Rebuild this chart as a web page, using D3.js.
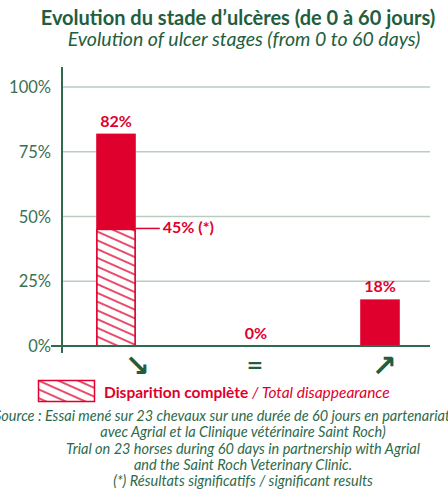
<!DOCTYPE html>
<html>
<head>
<meta charset="utf-8">
<script src="https://cdn.jsdelivr.net/npm/d3@7"></script>
<style>
  html, body { margin: 0; padding: 0; background: #fff; overflow: hidden; }
  svg { display: block; font-family: Lato, "Open Sans", sans-serif; }
</style>
</head>
<body>
<svg id="svg" width="448" height="493"></svg>
<script>
// chart values
const categories = ["down", "same", "up"];
const arrowLabels = ["\u2198", "=", "\u2197"];
const totals = [82, 0, 18];
const disappeared = [45, null, null];
const yTicks = [0, 25, 50, 75, 100];

const titleFr = "Evolution du stade d\u2019ulc\u00e8res (de 0 \u00e0 60 jours)";
const titleEn = "Evolution of ulcer stages (from 0 to 60 days)";
const legendFr = "Disparition compl\u00e8te";
const legendEn = "/ Total disappearance";
const notes = [
  "Source : Essai men\u00e9 sur 23 chevaux sur une dur\u00e9e de 60 jours en partenariat",
  "avec Agrial et la Clinique v\u00e9t\u00e9rinaire Saint Roch)",
  "Trial on 23 horses during 60 days in partnership with Agrial",
  "and the Saint Roch Veterinary Clinic.",
  "(*) R\u00e9sultats significatifs / significant results"
];

const red = "#e0002d";
const green = "#225e3e";
const axisGreen = "#2f6a4d";
const gridGreen = "#b9cdbf";

const svg = d3.select("#svg");
const margin = { left: 62, top: 67 };

const y = d3.scaleLinear().domain([0, 100]).range([346, 87]);
const x = d3.scaleBand().domain(categories).range([50, 446]).paddingInner(0.7).paddingOuter(0.35);

// hatch pattern
const defs = svg.append("defs");
const pat = defs.append("pattern")
  .attr("id", "hatch")
  .attr("patternUnits", "userSpaceOnUse")
  .attr("width", 8).attr("height", 8)
  .attr("patternTransform", "rotate(24)");
pat.append("rect").attr("width", 8).attr("height", 8).attr("fill", "#fff");
pat.append("line").attr("x1", 0).attr("x2", 8).attr("y1", 4).attr("y2", 4)
  .attr("stroke", red).attr("stroke-width", 1.4);

// titles
svg.append("text").attr("x", 238).attr("y", 25).attr("text-anchor", "middle")
  .attr("font-size", 20).attr("font-weight", 700).attr("fill", green).text(titleFr);
svg.append("text").attr("x", 244).attr("y", 46).attr("text-anchor", "middle")
  .attr("font-size", 19.5).attr("font-style", "italic").attr("fill", green).text(titleEn);

// gridlines
svg.append("g").selectAll("line").data(yTicks.filter(d => d > 0)).join("line")
  .attr("x1", margin.left).attr("x2", 430)
  .attr("y1", d => y(d)).attr("y2", d => y(d))
  .attr("stroke", gridGreen).attr("stroke-width", 1.5);

// y tick labels
svg.append("g").selectAll("text").data(yTicks).join("text")
  .attr("x", 51).attr("y", d => y(d) + 6)
  .attr("text-anchor", "end").attr("font-size", 16.5).attr("fill", "#3b6f54")
  .text(d => d + "%");

// bars (total)
const bars = svg.append("g");
bars.selectAll("rect.total").data(categories).join("rect")
  .attr("class", "total")
  .attr("x", d => x(d)).attr("width", x.bandwidth())
  .attr("y", (d, i) => y(totals[i]))
  .attr("height", (d, i) => y(0) - y(totals[i]))
  .attr("fill", red);

// hatched part
const hatchData = categories.map((c, i) => ({ c, v: disappeared[i] })).filter(d => d.v != null);
bars.selectAll("rect.hatch").data(hatchData).join("rect")
  .attr("class", "hatch")
  .attr("x", d => x(d.c) + 0.75).attr("width", x.bandwidth() - 1.5)
  .attr("y", d => y(d.v))
  .attr("height", d => y(0) - y(d.v))
  .attr("fill", "url(#hatch)")
  .attr("stroke", red).attr("stroke-width", 1.5);

// value labels
svg.append("g").selectAll("text").data(categories).join("text")
  .attr("x", (d, i) => x(d) + x.bandwidth() / 2 + (totals[i] === 0 ? 8 : 0))
  .attr("y", (d, i) => y(totals[i]) - 7)
  .attr("text-anchor", "middle").attr("font-size", 16).attr("font-weight", 700)
  .attr("fill", red)
  .text((d, i) => totals[i] + "%");

// 45% leader
hatchData.forEach(d => {
  const xr = x(d.c) + x.bandwidth();
  svg.append("line").attr("x1", xr).attr("x2", xr + 24)
    .attr("y1", y(d.v) - 1).attr("y2", y(d.v) - 1)
    .attr("stroke", red).attr("stroke-width", 1.5);
  svg.append("text").attr("x", xr + 27).attr("y", y(d.v) + 4)
    .attr("font-size", 16).attr("font-weight", 700).attr("fill", red)
    .text(d.v + "% (*)");
});

// axes
svg.append("line").attr("x1", margin.left).attr("x2", margin.left)
  .attr("y1", margin.top).attr("y2", 353)
  .attr("stroke", axisGreen).attr("stroke-width", 2);
svg.append("line").attr("x1", 51).attr("x2", 430)
  .attr("y1", y(0)).attr("y2", y(0))
  .attr("stroke", axisGreen).attr("stroke-width", 2);

// arrow labels
const arrowShift = [21, 7, 4];
svg.append("g").selectAll("text").data(categories).join("text")
  .attr("x", (d, i) => x(d) + x.bandwidth() / 2 + arrowShift[i])
  .attr("y", (d, i) => i === 1 ? 372 : 376)
  .attr("text-anchor", "middle").attr("font-family", "DejaVu Sans")
  .attr("font-size", (d, i) => i === 1 ? 20 : 30).attr("font-weight", 700).attr("fill", green)
  .text((d, i) => arrowLabels[i]);

// legend
svg.append("rect").attr("x", 38.5).attr("y", 380.5).attr("width", 56).attr("height", 21)
  .attr("fill", "url(#hatch)").attr("stroke", red).attr("stroke-width", 1.5);
const leg = svg.append("text").attr("x", 104).attr("y", 398).attr("font-size", 15.5).attr("fill", red);
leg.append("tspan").attr("font-weight", 700).text(legendFr + " ");
leg.append("tspan").attr("font-style", "italic").text(legendEn);

// notes
svg.append("g").selectAll("text").data(notes).join("text")
  .attr("x", (d, i) => i === 0 ? 222 : 243)
  .attr("y", (d, i) => 421 + i * 16.3)
  .attr("text-anchor", "middle").attr("font-size", 14.5).attr("font-style", "italic")
  .attr("fill", "#2e6a4c")
  .text(d => d);
</script>
</body>
</html>
